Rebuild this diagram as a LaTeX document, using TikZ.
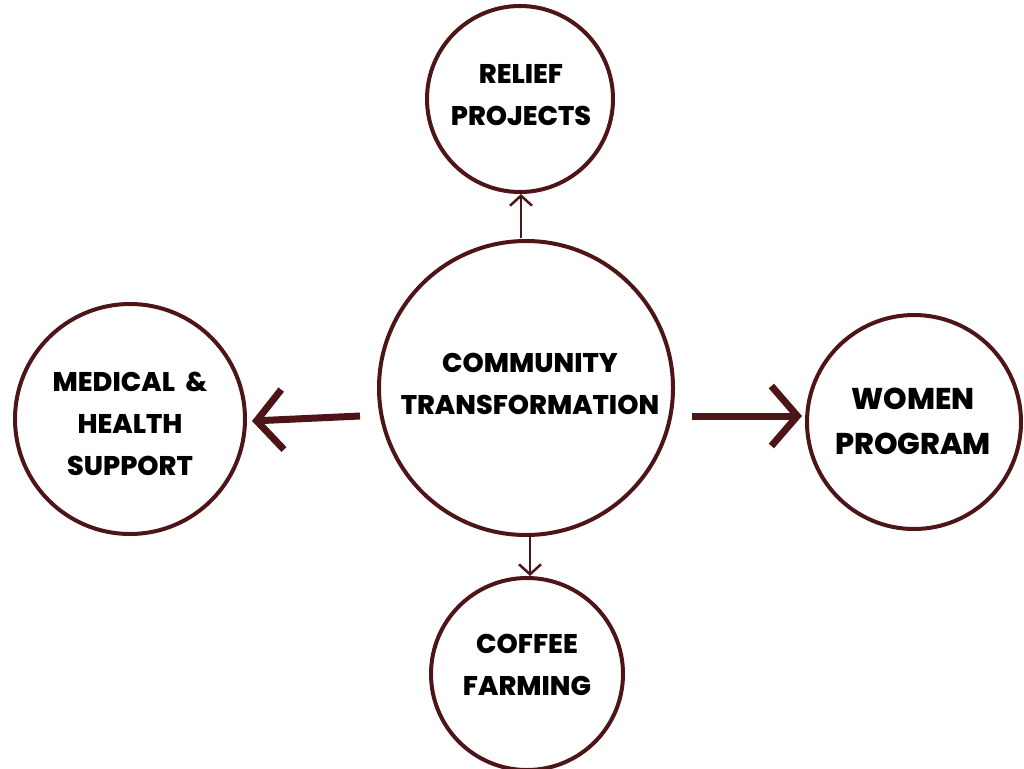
\documentclass[tikz,border=0pt]{standalone}
\usepackage{fontspec}
\setmainfont{Poppins}[BoldFont={* ExtraBold}]
\usetikzlibrary{arrows.meta}
\definecolor{maroon}{HTML}{4E1518}
\tikzset{
  bubble/.style={circle, draw=maroon, line width=4pt, inner sep=0pt},
  lbl/.style={align=center, font=\bfseries\fontsize{27}{42}\selectfont, text=black},
  thin/.style={draw=maroon, line width=2.5pt, -{Straight Barb[length=10pt,width=22pt,line width=2.5pt]}},
  thick/.style={draw=maroon, line width=7pt, -{Straight Barb[length=26pt,width=60pt,line width=7pt]}}
}
\begin{document}
\begin{tikzpicture}[x=1pt,y=-1pt]
\useasboundingbox (0,0) rectangle (1024,768);
\node[bubble, minimum size=294pt] (c) at (526,388) {};
\node[bubble, minimum size=186pt] (r) at (520,99) {};
\node[bubble, minimum size=230pt] (m) at (130,419) {};
\node[bubble, minimum size=214pt] (w) at (914,422) {};
\node[bubble, minimum size=192pt] (f) at (527,674) {};

\node[lbl] (ct) at (530,384) {COMMUNITY\\TRANSFORMATION};
\node[lbl] (rt) at (521,95) {RELIEF\\PROJECTS};
\node[lbl] (mt) at (130,424) {MEDICAL\ \ \&\\HEALTH\\SUPPORT};
\node[lbl, font=\bfseries\fontsize{30}{45}\selectfont] (wt) at (913,421) {WOMEN\\PROGRAM};
\node[lbl] (ft) at (527,665) {COFFEE\\FARMING};

\coordinate (cu) at (521,238);
\coordinate (ru) at (521,194);
\coordinate (cd) at (530,536);
\coordinate (fd) at (530,576);
\coordinate (cl) at (360,416);
\coordinate (ml) at (252,421);
\coordinate (cr) at (692,416);
\coordinate (wr) at (802,416);

\draw[thin] (cu) -- (ru);
\draw[thin] (cd) -- (fd);
\draw[thick] (cl) -- (ml);
\draw[thick] (cr) -- (wr);
\end{tikzpicture}
\end{document}
